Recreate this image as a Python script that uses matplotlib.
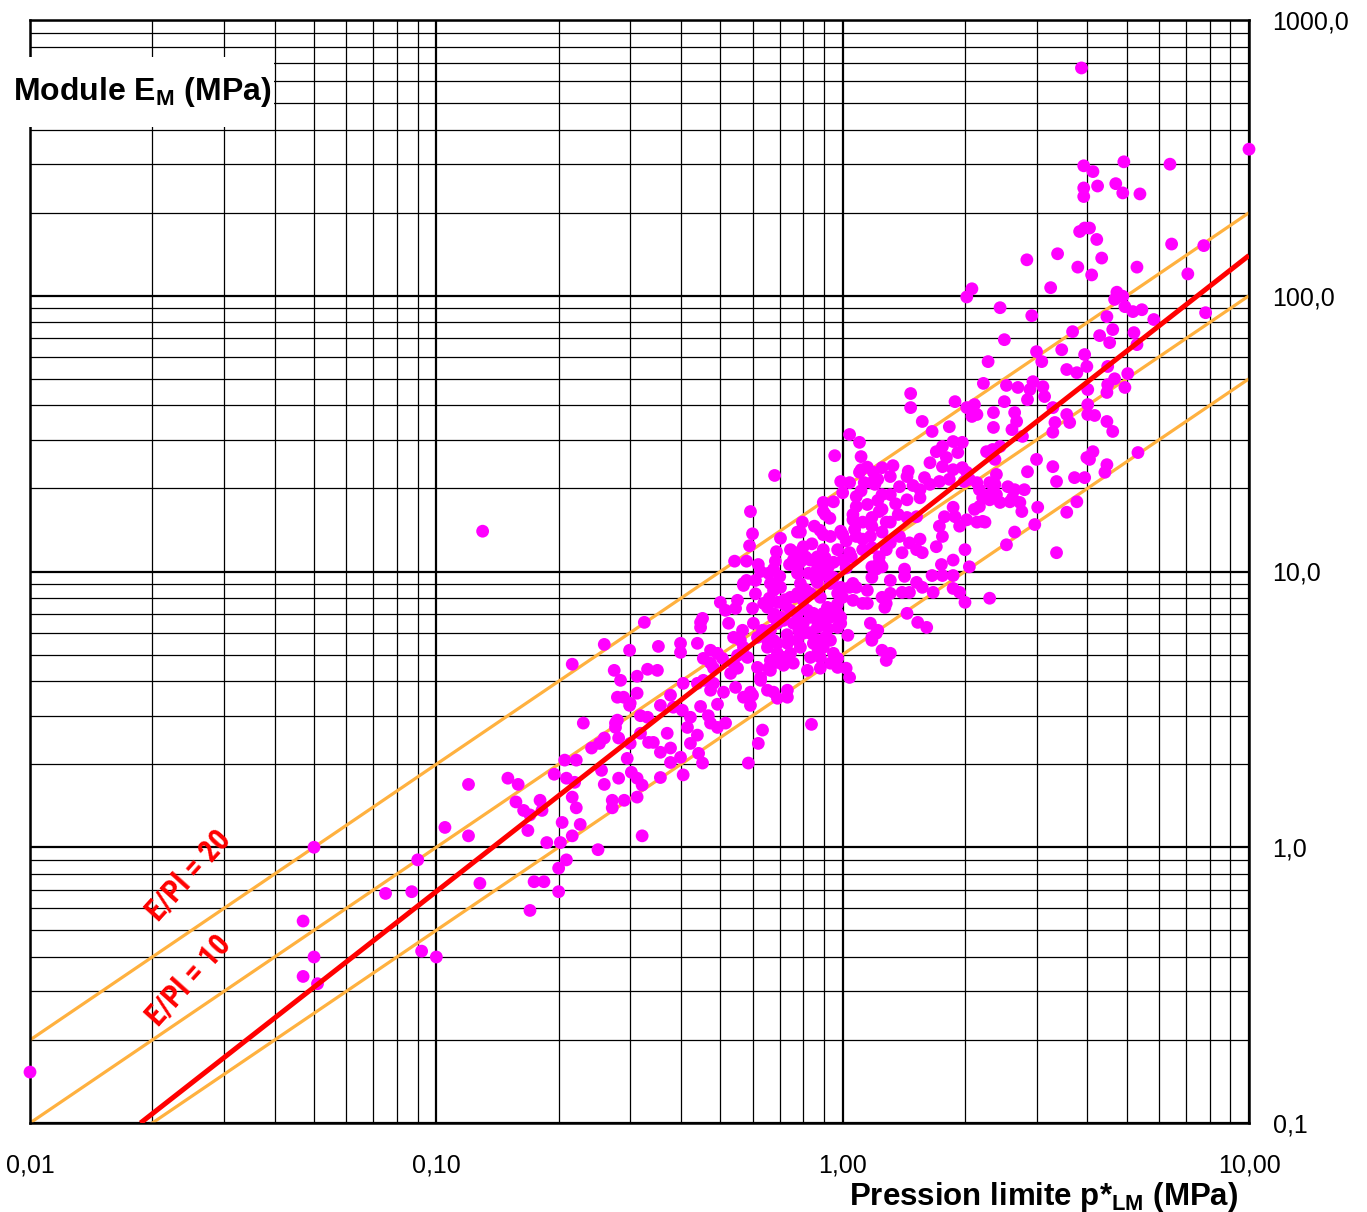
import matplotlib
matplotlib.use("Agg")
import matplotlib.pyplot as plt
from matplotlib.patches import Rectangle
from matplotlib import font_manager
from matplotlib.font_manager import FontProperties

# ---------------- data ----------------
p_lm = [
    # sparse left part
    0.01, 0.05, 0.105, 0.09, 0.075, 0.087, 0.047, 0.05, 0.047, 0.051, 0.092, 0.10, 0.13, 10.0, 3.87,
    # 0.12 - 0.33
    0.120, 0.120, 0.128, 0.150, 0.159, 0.157, 0.164, 0.168, 0.180, 0.182, 0.170, 0.187, 0.174, 0.184, 0.170,
    0.195, 0.207, 0.221, 0.209, 0.219, 0.216, 0.221, 0.204, 0.226, 0.216, 0.202, 0.209, 0.200, 0.200, 0.250,
    0.230, 0.241, 0.252, 0.259, 0.255, 0.259, 0.271, 0.271, 0.281, 0.281, 0.276, 0.279, 0.295, 0.300, 0.290,
    0.302, 0.312, 0.321, 0.312, 0.321, 0.300, 0.318, 0.331, 0.318, 0.333,
    0.216, 0.259, 0.299, 0.274, 0.284, 0.279, 0.289, 0.299,
    # 0.3 - 0.75
    0.325, 0.352, 0.312, 0.331, 0.350, 0.312, 0.276, 0.356, 0.377, 0.383, 0.403, 0.405, 0.399, 0.399, 0.439,
    0.452, 0.447, 0.454, 0.473, 0.481, 0.506, 0.454, 0.481, 0.447, 0.492, 0.422, 0.415, 0.439, 0.467, 0.473,
    0.515, 0.492, 0.370, 0.342, 0.356, 0.377, 0.399, 0.422, 0.442, 0.452, 0.377, 0.405, 0.356, 0.500, 0.551,
    0.515, 0.545, 0.600, 0.524, 0.567, 0.603, 0.539, 0.570, 0.551, 0.583, 0.530, 0.551, 0.545, 0.570, 0.600,
    0.593, 0.628, 0.653, 0.657, 0.664, 0.691, 0.653, 0.676, 0.617, 0.664, 0.715, 0.639, 0.676, 0.691, 0.723,
    0.570, 0.691, 0.731, 0.635, 0.620, 0.586, 0.715, 0.715, 0.672,
    # 0.5 - 1.3
    0.680, 0.593, 0.600, 0.542, 0.580, 0.703, 0.687, 0.683, 0.744, 0.756, 0.796, 0.787, 0.852, 0.800, 0.810,
    0.866, 0.896, 0.906, 0.933, 0.896, 0.949, 0.896, 0.989, 1.00, 1.04, 1.10, 1.18, 1.08, 1.15, 1.25,
    1.25, 1.06, 1.12, 1.18, 1.00, 1.08, 0.972, 1.00, 1.04, 1.17, 1.25, 1.28, 1.12, 1.18, 1.23,
    1.21, 1.18, 1.25, 0.628, 0.657, 0.676, 0.580, 0.570, 0.610, 0.664, 0.703, 0.774, 0.787, 0.744, 0.824,
    0.866, 0.922, 0.866, 0.933, 0.972, 1.00, 1.04, 1.08, 1.06, 1.12, 1.25, 1.27, 0.653, 0.715, 0.774,
    0.800, 0.819, 0.676, 0.703, 0.744, 0.774, 0.833, 0.866, 0.917, 0.933, 0.972, 0.989, 0.896, 0.866, 0.756,
    0.800, 0.800, 0.833, 0.866, 0.906, 0.933, 0.972, 1.03, 1.17, 1.18, 1.21, 0.447, 0.635, 0.691, 0.560,
    0.653, 0.691, 0.731, 0.787, 0.847, 0.896, 0.881, 0.949, 0.972, 1.02, 1.04, 0.833, 0.819, 0.744, 0.756,
    0.691, 0.664, 0.492, 0.473, 0.539, 0.617, 0.628, 0.439, 0.473, 0.509, 0.593, 0.676, 0.731, 0.881, 1.25,
    1.28, 0.838,
    # 0.8 - 2.4
    1.47, 1.47, 2.22, 1.89, 2.02, 2.11, 2.08, 2.35, 2.35, 1.57, 1.66, 1.83, 1.04, 1.10, 1.11,
    0.956, 1.70, 1.76, 1.87, 1.97, 1.92, 1.64, 1.80, 1.76, 1.97, 2.02, 2.26, 1.11, 1.19, 1.25,
    1.33, 1.22, 1.31, 1.44, 1.59, 1.64, 1.73, 1.83, 1.13, 1.20, 1.38, 1.49, 1.55, 1.08, 1.31,
    1.44, 1.55, 0.906, 1.23, 1.37, 1.06, 1.18, 1.31, 1.44, 1.52, 1.78, 1.73, 1.89, 1.94, 2.17,
    2.21, 2.11, 2.30, 2.02, 2.14, 2.24, 1.87, 2.05, 2.14, 2.30, 2.37, 1.87, 0.774, 0.896, 0.989,
    1.02, 1.12, 1.05, 1.23, 1.28, 1.31, 1.38, 1.46, 1.52, 1.55, 1.40, 1.57, 1.70, 1.76, 1.87,
    2.00, 2.05, 1.75, 1.76, 1.87, 1.66, 1.52, 1.57, 1.67, 1.40, 1.46, 1.31, 1.31, 1.42, 1.42,
    1.18, 1.87, 1.94, 2.00, 2.30, 1.06, 1.15, 1.15, 1.28, 1.44, 1.53, 1.61, 1.22, 1.18, 1.31,
    0.774, 0.833, 0.774, 0.881, 0.917, 0.949, 0.989, 0.881, 0.833, 0.774, 0.847, 0.896, 0.989, 0.774, 0.972,
    0.933,
    # 2 - 4
    2.02, 2.08, 2.44, 2.92, 2.50, 2.28, 3.00, 3.09, 3.68, 3.46, 3.56, 3.77, 3.94, 3.99, 2.53,
    2.70, 2.89, 2.94, 3.11, 3.14, 2.85, 2.50, 2.14, 2.65, 2.68, 2.61, 2.77, 3.29, 3.33, 3.29,
    3.56, 3.62, 3.00, 2.85, 3.29, 3.36, 3.72, 3.94, 3.99, 3.77, 3.56, 3.02, 2.97, 2.65, 2.53,
    3.36, 2.34, 2.44, 2.39, 2.37, 2.17, 2.55, 2.65, 2.80, 2.39, 2.30, 2.44, 2.58, 2.73, 2.76,
    2.62, 2.21, 1.99,
    # 3 - 8
    3.79, 4.10, 5.30, 7.07, 3.25, 4.73, 4.89, 4.67, 4.95, 5.18, 5.45, 4.47, 4.62, 4.29, 4.54,
    5.21, 5.30, 5.83, 7.82, 4.49, 4.67, 4.49, 4.47, 4.95, 5.03, 4.01, 4.01, 4.01, 4.17, 4.47,
    4.62, 4.13, 4.05, 4.47, 4.42, 5.33,
    # upper cluster
    3.92, 4.13, 4.92, 6.39, 3.92, 3.92, 4.24, 4.70, 4.89, 5.39, 3.83, 3.94, 4.05, 4.22, 2.84,
    3.38, 4.34, 6.45, 7.74,
    # extra points in the dense core
    0.72, 0.76, 0.81, 0.86, 0.91, 0.95, 0.70, 0.74, 0.79, 0.84, 0.88, 0.93, 0.66, 0.61, 0.78,
    0.83, 0.87, 0.92, 0.97, 1.02, 1.07, 0.68, 0.73, 0.62, 0.59, 1.11, 1.15, 1.22, 1.35, 1.45,
]

e_m = [
    0.153, 1.0, 1.18, 0.9, 0.68, 0.69, 0.54, 0.40, 0.34, 0.32, 0.42, 0.40, 14.0, 340.0, 670.0,
    1.69, 1.10, 0.74, 1.78, 1.69, 1.46, 1.36, 1.15, 1.48, 1.36, 1.31, 1.04, 0.75, 0.75, 0.59,
    1.84, 2.07, 2.07, 1.78, 1.72, 1.52, 1.39, 1.23, 1.21, 1.10, 1.04, 0.90, 0.84, 0.69, 0.98,
    2.82, 2.29, 2.38, 2.49, 1.90, 1.69, 1.48, 1.39, 1.78, 2.49, 2.72, 2.89, 2.10, 2.38, 1.48,
    1.87, 1.78, 1.68, 1.52, 1.10, 3.33, 3.0, 2.96, 2.59, 2.40,
    4.61, 5.44, 5.18, 4.38, 4.03, 3.50, 3.50, 3.27,
    6.54, 5.35, 4.17, 4.42, 4.38, 3.62, 2.82, 3.27, 3.56, 3.22, 3.14, 3.93, 5.49, 5.09, 5.49,
    6.76, 6.27, 4.84, 5.18, 4.46, 4.84, 4.03, 3.93, 3.24, 3.30, 2.96, 2.72, 2.55, 3.0, 2.82,
    2.82, 2.72, 2.59, 2.40, 2.21, 2.29, 2.12, 2.38, 2.19, 2.02, 2.03, 1.83, 1.79, 7.73, 7.86,
    7.23, 7.35, 7.35, 6.49, 6.12, 6.49, 5.77, 5.31, 4.96, 4.88, 4.27, 4.46, 3.80, 3.50, 3.56,
    3.27, 4.03, 3.71, 4.46, 4.76, 5.05, 5.31, 5.63, 5.77, 6.12, 6.65, 7.66, 8.54, 7.73, 7.54,
    8.9, 3.47, 3.50, 2.66, 2.38, 2.02, 4.57, 4.88, 9.05,
    22.3, 16.5, 13.7, 10.9, 10.9, 13.2, 11.8, 10.9, 12.0, 11.0, 15.1, 13.9, 14.6, 12.3, 11.3,
    11.3, 12.0, 11.2, 13.4, 17.8, 17.9, 16.5, 21.2, 19.3, 21.0, 22.9, 21.0, 18.7, 17.5, 19.0,
    16.8, 15.4, 15.1, 15.7, 13.6, 13.4, 12.0, 11.0, 11.7, 13.4, 13.9, 15.1, 12.0, 12.2, 11.3,
    10.2, 9.52, 10.4, 10.0, 9.85, 10.2, 9.28, 9.05, 9.28, 9.05, 8.76, 9.85, 9.05, 8.06, 9.85,
    10.2, 10.4, 9.13, 9.05, 8.33, 8.06, 8.76, 8.76, 7.86, 7.66, 8.06, 7.41, 7.41, 7.66, 8.33,
    7.86, 7.23, 6.82, 6.82, 7.23, 6.65, 6.82, 6.65, 7.41, 6.82, 7.05, 6.82, 6.49, 6.27, 6.49,
    6.49, 5.97, 5.97, 5.63, 5.77, 5.63, 6.27, 5.87, 6.49, 5.77, 5.97, 6.54, 6.12, 6.49, 5.63,
    5.63, 5.49, 5.49, 5.31, 5.49, 5.31, 4.88, 5.05, 4.49, 4.46, 4.13, 4.88, 4.38, 5.05, 4.65,
    4.68, 4.38, 5.05, 4.65, 4.65, 4.49, 4.13, 3.93, 3.71, 3.65, 3.65, 3.65, 3.71, 4.46, 5.18,
    4.76, 2.79,
    44.2, 39.3, 48.1, 41.3, 39.3, 40.3, 36.5, 37.7, 33.3, 35.0, 32.2, 33.5, 31.4, 29.4, 26.1,
    26.3, 27.2, 28.4, 29.6, 29.4, 27.0, 24.8, 25.9, 24.0, 23.8, 22.9, 27.2, 23.4, 22.9, 23.8,
    24.2, 21.6, 22.1, 22.1, 21.9, 20.7, 21.2, 21.6, 21.0, 20.7, 20.3, 20.5, 19.8, 17.2, 19.0,
    18.2, 18.5, 16.1, 16.5, 16.1, 16.1, 14.6, 15.1, 15.7, 15.8, 15.8, 14.6, 15.8, 14.6, 17.2,
    18.5, 16.8, 19.0, 15.4, 15.1, 15.1, 17.1, 21.6, 21.0, 21.0, 25.5, 23.4, 13.9, 13.6, 14.0,
    12.9, 13.1, 11.3, 10.8, 12.0, 12.7, 13.4, 12.7, 12.0, 13.1, 11.7, 11.7, 12.3, 13.4, 11.0,
    12.0, 10.4, 10.6, 9.67, 9.67, 9.67, 9.13, 8.76, 8.40, 8.40, 8.40, 9.28, 8.33, 10.2, 9.6,
    10.4, 8.68, 8.40, 7.73, 8.00, 9.05, 8.54, 7.66, 7.66, 7.05, 6.54, 6.27, 6.12, 5.63, 5.05,
    11.7, 11.0, 10.4, 10.4, 9.85, 9.52, 8.76, 8.06, 8.33, 7.05, 7.05, 7.05, 6.49, 5.63, 4.84,
    4.65,
    99.0, 106.0, 90.5, 84.7, 69.3, 57.7, 62.7, 57.7, 74.1, 63.7, 54.0, 52.6, 61.2, 55.4, 47.3,
    46.5, 45.7, 48.8, 46.8, 43.1, 42.0, 41.3, 37.1, 37.7, 35.0, 32.7, 30.9, 39.3, 34.7, 32.0,
    37.1, 34.7, 25.5, 23.0, 24.0, 21.2, 21.9, 21.9, 25.9, 17.9, 16.4, 17.1, 14.8, 13.9, 12.5,
    11.7, 27.7, 28.4, 22.5, 20.7, 19.8, 20.3, 19.8, 19.8, 19.0, 18.2, 17.8, 17.9, 17.8, 16.5,
    18.5, 15.2, 21.2,
    127.0, 119.0, 127.0, 120.0, 107.0, 103.0, 99.6, 97.0, 91.3, 87.6, 89.0, 84.0, 75.4, 71.7, 67.6,
    73.5, 66.5, 82.0, 86.8, 55.4, 50.0, 47.6, 44.6, 46.5, 52.2, 45.7, 40.3, 37.1, 36.8, 35.0,
    32.2, 27.2, 25.5, 24.4, 22.9, 27.0,
    296.0, 282.0, 306.0, 300.0, 246.0, 229.0, 250.0, 255.0, 236.0, 234.0, 171.0, 176.0, 176.0, 160.0, 135.0,
    142.0, 137.0, 154.0, 152.0,
    7.9, 8.1, 8.6, 9.4, 9.7, 10.8, 9.6, 10.6, 10.9, 12.6, 14.1, 15.6, 8.0, 8.3, 6.1,
    6.0, 5.2, 6.2, 7.6, 10.3, 14.2, 7.0, 5.9, 10.6, 12.4, 19.6, 23.9, 18.1, 17.6, 23.1,
]

# correlation line (end points)
fit_p = [0.0187, 10.0]
fit_e = [0.1, 140.0]

# constant ratio lines E/Pl
ratio_values = [20, 10, 5]
ratio_p = [0.01, 10.0]

x_ticks = [0.01, 0.1, 1.0, 10.0]
x_tick_labels = ["0,01", "0,10", "1,00", "10,00"]
y_ticks = [0.1, 1.0, 10.0, 100.0, 1000.0]
y_tick_labels = ["0,1", "1,0", "10,0", "100,0", "1000,0"]

# ---------------- style ----------------
W, H = 1367, 1212
plt.rcParams["font.family"] = ["Liberation Sans", "DejaVu Sans"]
plt.rcParams["mathtext.fontset"] = "custom"
plt.rcParams["mathtext.rm"] = "Liberation Sans"
plt.rcParams["mathtext.bf"] = "Liberation Sans:bold"


def _weight(f):
    w = f.weight
    if isinstance(w, str):
        return {"bold": 700, "heavy": 800, "black": 900, "semibold": 600, "demibold": 600}.get(w, 400)
    return int(w)


def condensed_bold():
    prefs = ["Liberation Sans Narrow", "Arial Narrow", "Roboto Condensed", "Noto Sans", "Open Sans",
             "DejaVu Sans", "Noto Sans Condensed", "Open Sans Condensed"]
    found = []
    for f in font_manager.fontManager.ttflist:
        fname = f.fname.lower()
        narrowish = ("narrow" in f.name.lower() or "condensed" in f.name.lower()
                     or (isinstance(f.stretch, str) and "condensed" in f.stretch and "semi" not in f.stretch)
                     or "condensed" in fname or "narrow" in fname)
        if narrowish and _weight(f) >= 600 and "italic" not in fname and "oblique" not in fname \
                and "extra" not in fname and "semi" not in fname and "black" not in fname:
            rank = len(prefs)
            for i, pn in enumerate(prefs):
                if f.name == pn or pn.lower().replace(" ", "") in fname.replace("-", "").replace("_", ""):
                    rank = i
                    break
            found.append((rank, _weight(f), f.fname))
    if found:
        found.sort(key=lambda t: (t[0], abs(t[1] - 700)))
        return FontProperties(fname=found[0][2])
    return FontProperties(family="Roboto", weight="bold")


ORANGE = "#FFB13F"
MAGENTA = "#FF00FF"
RED = "#FF0000"

fig = plt.figure(figsize=(W / 100, H / 100), dpi=100)
ax = fig.add_axes([30 / W, (H - 1123) / H, (1249 - 30) / W, (1123 - 20) / H])
ax.set_xscale("log")
ax.set_yscale("log")
ax.set_xlim(0.01, 10)
ax.set_ylim(0.1, 1000)

ax.grid(True, which="major", color="black", linewidth=1.6, zorder=0)
ax.grid(True, which="minor", color="black", linewidth=0.9, zorder=0)
ax.set_axisbelow(True)

for r in ratio_values:
    ax.plot(ratio_p, [r * v for v in ratio_p], color=ORANGE, linewidth=2.3, zorder=2, solid_capstyle="butt")

ax.scatter(p_lm, e_m, s=85, color=MAGENTA, edgecolors="none", zorder=3, clip_on=False)

ax.plot(fit_p, fit_e, color=RED, linewidth=3.6, zorder=4, solid_capstyle="butt")

ax.set_xticks(x_ticks)
ax.set_xticklabels(x_tick_labels)
ax.set_yticks(y_ticks)
ax.set_yticklabels(y_tick_labels)
ax.xaxis.set_minor_formatter(plt.NullFormatter())
ax.yaxis.set_minor_formatter(plt.NullFormatter())
ax.yaxis.tick_right()
ax.tick_params(axis="both", which="both", length=0)
ax.tick_params(axis="x", which="major", pad=22, labelsize=18)
ax.tick_params(axis="y", which="major", pad=17, labelsize=18)
for s in ax.spines.values():
    s.set_linewidth(1.8)
    s.set_color("black")

# ratio labels
lab_fp = condensed_bold()
lab_fp.set_size(22)
ax.text(0.0246, 0.79, "E/Pl = 20", rotation=48, rotation_mode="anchor", ha="center", va="center",
        color=RED, fontproperties=lab_fp, zorder=5)
ax.text(0.0246, 0.33, "E/Pl = 10", rotation=48, rotation_mode="anchor", ha="center", va="center",
        color=RED, fontproperties=lab_fp, zorder=5)

# title box (top-left)
fig.patches.append(Rectangle((0, 1 - 127 / H), 274 / W, 70 / H, transform=fig.transFigure,
                             facecolor="white", edgecolor="none", zorder=10))
fig.text(13 / W, 1 - 92 / H, r"Module E$_{\mathbf{M}}$ (MPa)", ha="left", va="center",
         fontsize=23, fontweight="bold", zorder=11)

# x axis title
fig.text(1238 / W, 1 - 1197 / H, r"Pression limite p*$_{\mathbf{LM}}$ (MPa)", ha="right", va="center",
         fontsize=22.5, fontweight="bold")

fig.savefig("out.png", dpi=100)
